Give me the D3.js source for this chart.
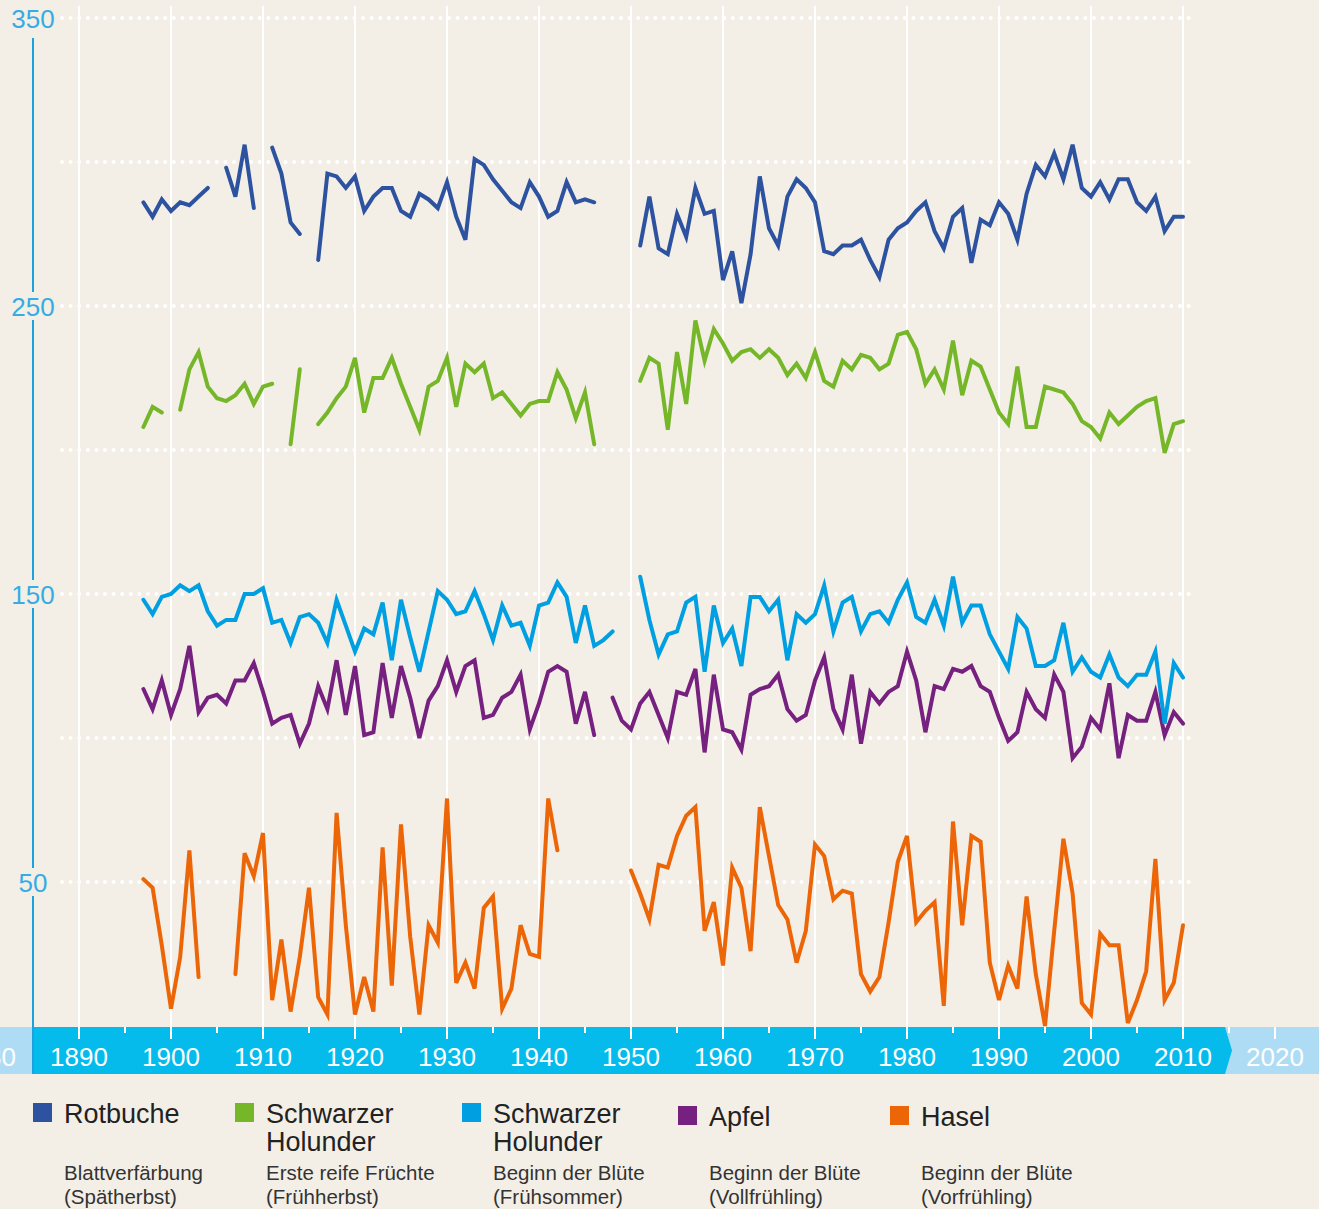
<!DOCTYPE html>
<html>
<head>
<meta charset="utf-8">
<script src="https://cdn.jsdelivr.net/npm/d3@7"></script>
<style>
  body { margin: 0; background: #f3efe7; }
  svg { display: block; font-family: "Liberation Sans", Arial, sans-serif; }
</style>
</head>
<body>
<main></main>
<script>
// day of year, one value per year from 1897 to 2010, null = no observation
const startYear = 1897;

const rotbuche = [
  286, 281, 287,
  283, 286, 285, 288, 291, null, 298, 288, 306, 284,
  null, 305, 296, 279, 275, null, 266, 296, 295, 291,
  295, 283, 288, 291, 291, 283, 281, 289, 287, 284,
  293, 281, 273, 301, 299, 294, 290, 286, 284, 293,
  288, 281, 283, 293, 286, 287, 286, null, null, null,
  null, 271, 288, 270, 268, 282, 274, 291, 282, 283,
  259, 269, 251, 268, 295, 277, 271, 288, 294, 291,
  286, 269, 268, 271, 271, 273, 266, 260, 273, 277,
  279, 283, 286, 276, 270, 281, 284, 265, 280, 278,
  286, 282, 273, 289, 299, 295, 303, 294, 306, 291,
  288, 293, 287, 294, 294, 286, 283, 288, 276, 281,
  281
];

const holunderFruechte = [
  208, 215, 213,
  null, 214, 228, 234, 222, 218, 217, 219, 223, 216,
  222, 223, null, 202, 228, null, 209, 213, 218, 222,
  232, 213, 225, 225, 232, 223, 215, 207, 222, 224,
  232, 215, 230, 227, 230, 218, 220, 216, 212, 216,
  217, 217, 227, 221, 211, 220, 202, null, null, null,
  null, 224, 232, 230, 207, 234, 216, 245, 231, 242,
  237, 231, 234, 235, 232, 235, 232, 226, 230, 225,
  234, 224, 222, 231, 228, 233, 232, 228, 230, 240,
  241, 235, 223, 228, 221, 238, 219, 231, 229, 221,
  213, 209, 229, 208, 208, 222, 221, 220, 216, 210,
  208, 204, 213, 209, 212, 215, 217, 218, 199, 209,
  210
];

const holunderBluete = [
  148, 143, 149,
  150, 153, 151, 153, 144, 139, 141, 141, 150, 150,
  152, 140, 141, 133, 142, 143, 140, 133, 148, 139,
  130, 138, 136, 147, 127, 148, 135, 123, 137, 151,
  148, 143, 144, 151, 143, 134, 146, 139, 140, 132,
  146, 147, 154, 149, 133, 146, 132, 134, 137, null,
  null, 156, 141, 129, 136, 137, 147, 149, 123, 146,
  133, 138, 125, 149, 149, 144, 148, 127, 143, 140,
  143, 153, 137, 147, 149, 137, 143, 144, 140, 148,
  154, 142, 140, 148, 139, 156, 140, 146, 146, 136,
  130, 124, 142, 138, 125, 125, 127, 140, 123, 128,
  123, 121, 129, 121, 118, 122, 122, 130, 105, 126,
  121
];

const apfel = [
  117, 110, 120,
  108, 117, 132, 109, 114, 115, 112, 120, 120, 126,
  116, 105, 107, 108, 98, 105, 118, 110, 127, 108,
  125, 101, 102, 126, 107, 125, 114, 100, 113, 118,
  127, 116, 125, 127, 107, 108, 114, 116, 122, 103,
  112, 123, 125, 123, 105, 116, 101, null, 114, 106,
  103, 112, 116, 108, 100, 116, 115, 124, 95, 122,
  103, 102, 96, 115, 117, 118, 122, 110, 106, 108,
  120, 128, 110, 103, 122, 98, 116, 112, 116, 118,
  130, 120, 102, 118, 117, 124, 123, 125, 118, 116,
  107, 99, 102, 116, 110, 107, 122, 116, 93, 97,
  107, 103, 119, 93, 108, 106, 106, 116, 101, 109,
  105
];

const hasel = [
  51, 48, 28,
  6, 24, 61, 17, null, null, null, 18, 60, 52,
  67, 9, 30, 5, 24, 48, 10, 4, 74, 35,
  4, 17, 5, 62, 14, 70, 31, 4, 35, 29,
  79, 15, 22, 13, 41, 45, 6, 13, 35, 25,
  24, 79, 61, null, null, null, null, null, null, null,
  54, 46, 37, 56, 55, 66, 73, 76, 33, 43,
  21, 55, 48, 26, 76, 59, 42, 37, 22, 33,
  63, 59, 44, 47, 46, 18, 12, 17, 36, 57,
  66, 36, 40, 43, 7, 71, 35, 66, 64, 22,
  9, 21, 13, 45, 18, 0, 33, 65, 46, 8,
  4, 32, 28, 28, 1, 9, 19, 58, 9, 15,
  35
];

const seriesNames = ['Rotbuche', 'Schwarzer Holunder', 'Schwarzer Holunder', 'Apfel', 'Hasel'];
const seriesPhases = [
  ['Blattverfärbung', '(Spätherbst)'],
  ['Erste reife Früchte', '(Frühherbst)'],
  ['Beginn der Blüte', '(Frühsommer)'],
  ['Beginn der Blüte', '(Vollfrühling)'],
  ['Beginn der Blüte', '(Vorfrühling)']
];
const seriesValues = [rotbuche, holunderFruechte, holunderBluete, apfel, hasel];
const yLabels = [50, 150, 250, 350];
const gridLines = [50, 100, 150, 200, 250, 300, 350];
const decades = d3.range(1880, 2021, 10);

const colors = ['#2c52a0', '#76b72a', '#009fe1', '#76207f', '#ec6608'];
const w = 1319;
const h = 1209;
const bg = '#f3efe7';

const svg = d3.select('main').append('svg').attr('width', w).attr('height', h);
svg.append('rect').attr('width', w).attr('height', h).attr('fill', bg);

const x = d3.scaleLinear().domain([1890, 2010]).range([79, 1183]);
const y = d3.scaleLinear().domain([0, 350]).range([1026, 18]);

// vertical white grid
svg.append('g')
  .selectAll('line')
  .data(decades.filter(d => d >= 1890 && d <= 2010))
  .enter()
  .append('line')
  .attr('x1', d => x(d))
  .attr('x2', d => x(d))
  .attr('y1', 6)
  .attr('y2', 1027)
  .attr('stroke', '#fff')
  .attr('stroke-width', 2);

// dotted horizontal grid
svg.append('g')
  .selectAll('line')
  .data(gridLines)
  .enter()
  .append('line')
  .attr('x1', 62)
  .attr('x2', 1196)
  .attr('y1', d => y(d))
  .attr('y2', d => y(d))
  .attr('stroke', '#fff')
  .attr('stroke-width', 4)
  .attr('stroke-linecap', 'round')
  .attr('stroke-dasharray', '0 8.6');

// time band
const bandTop = 1027;
const bandBottom = 1074;
svg.append('rect')
  .attr('x', 0).attr('y', bandTop)
  .attr('width', w).attr('height', bandBottom - bandTop)
  .attr('fill', '#aedcf5');
const tip = x(2010) + 49;
svg.append('path')
  .attr('d', `M33,${bandTop}H${tip - 7}L${tip},${(bandTop + bandBottom) / 2}L${tip - 7},${bandBottom}H33Z`)
  .attr('fill', '#04bbec');

svg.append('g')
  .selectAll('line')
  .data(d3.range(1885, 2021, 5))
  .enter()
  .append('line')
  .attr('x1', d => x(d))
  .attr('x2', d => x(d))
  .attr('y1', bandTop)
  .attr('y2', d => d % 10 === 0 ? bandTop + 12 : bandTop + 6)
  .attr('stroke', '#fff')
  .attr('stroke-width', 2);

svg.append('g')
  .selectAll('text')
  .data(decades)
  .enter()
  .append('text')
  .attr('x', d => x(d))
  .attr('y', 1066)
  .attr('text-anchor', 'middle')
  .attr('font-size', 26)
  .attr('fill', '#fff')
  .text(d => d);

// y axis
svg.append('line')
  .attr('x1', 33).attr('x2', 33)
  .attr('y1', 38).attr('y2', bandBottom)
  .attr('stroke', '#1aa3df')
  .attr('stroke-width', 2);

const yLab = svg.append('g')
  .selectAll('g')
  .data(yLabels)
  .enter()
  .append('g')
  .attr('transform', d => `translate(33,${y(d)})`);
yLab.append('rect')
  .attr('x', -26).attr('y', -14)
  .attr('width', 52).attr('height', 28)
  .attr('fill', bg);
yLab.append('text')
  .attr('y', 9.5)
  .attr('text-anchor', 'middle')
  .attr('font-size', 26)
  .attr('fill', '#35ace3')
  .text(d => d);

// series lines
const line = d3.line()
  .defined(d => d != null)
  .x((d, i) => x(startYear + i))
  .y(d => y(d));

svg.append('g')
  .selectAll('path')
  .data(d3.range(seriesValues.length).reverse())
  .enter()
  .append('path')
  .attr('d', i => line(seriesValues[i]))
  .attr('fill', 'none')
  .attr('stroke', i => colors[i])
  .attr('stroke-width', 4)
  .attr('stroke-linecap', 'round');

// legend
const legendX = [33, 235, 462, 678, 890];
const legendDy = [0, 0, 0, 3, 3];
const legend = svg.append('g')
  .selectAll('g')
  .data(seriesNames)
  .enter()
  .append('g')
  .attr('transform', (d, i) => `translate(${legendX[i]},1103)`);
legend.append('rect')
  .attr('y', (d, i) => legendDy[i])
  .attr('width', 19)
  .attr('height', 19)
  .attr('fill', (d, i) => colors[i]);
legend.append('text')
  .attr('font-size', 27)
  .attr('fill', '#222')
  .selectAll('tspan')
  .data((d, i) => d.split(' ').map(t => [t, i]))
  .enter()
  .append('tspan')
  .attr('x', 31)
  .attr('y', (d, j) => 20 + legendDy[d[1]] + 28 * j)
  .text(d => d[0]);
legend.append('text')
  .attr('font-size', 20.5)
  .attr('fill', '#333')
  .selectAll('tspan')
  .data((d, i) => seriesPhases[i])
  .enter()
  .append('tspan')
  .attr('x', 31)
  .attr('y', (d, j) => 77 + 24 * j)
  .text(d => d);
</script>
</body>
</html>
